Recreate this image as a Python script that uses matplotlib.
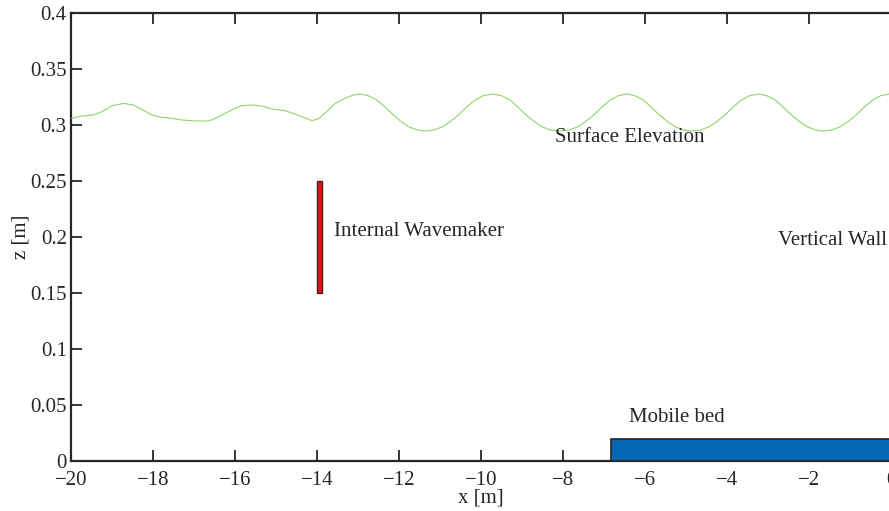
import numpy as np
import matplotlib
matplotlib.use("Agg")
import matplotlib.pyplot as plt
import matplotlib.patches as mpatches
from matplotlib.ticker import FuncFormatter

# -----------------------------------------------------------------------------
# Flume layout data
# -----------------------------------------------------------------------------
# free surface snapshot (x [m], eta [m])
surf_x = [-19.98, -19.74, -19.46, -19.29, -19.13, -19.00, -18.72, -18.48,
          -18.28, -18.03, -17.79, -17.54, -17.30, -16.98, -16.65, -16.53,
          -16.37, -16.16, -16.00, -15.84, -15.59, -15.35, -15.10, -14.78,
          -14.54, -14.33, -14.13, -13.97, -13.72, -13.56, -13.32, -13.11,
          -12.95, -12.75, -12.55, -12.35, -12.15, -11.95, -11.75, -11.55,
          -11.34, -11.15, -10.95, -10.75, -10.55, -10.35, -10.15, -9.95,
          -9.70, -9.50, -9.30, -9.10, -8.90, -8.70, -8.50, -8.30,
          -8.07, -7.85, -7.65, -7.45, -7.25, -7.05, -6.85, -6.65,
          -6.45, -6.25, -6.05, -5.85, -5.65, -5.45, -5.25, -5.05,
          -4.86, -4.65, -4.45, -4.25, -4.05, -3.85, -3.65, -3.45,
          -3.23, -3.03, -2.83, -2.63, -2.43, -2.23, -2.03, -1.83,
          -1.65, -1.45, -1.25, -1.05, -0.85, -0.65, -0.45, -0.25,
          -0.05, 0.0]
surf_z = [0.3060, 0.3080, 0.3090, 0.3113, 0.3140, 0.3172, 0.3193, 0.3179,
          0.3140, 0.3090, 0.3069, 0.3060, 0.3045, 0.3036, 0.3036, 0.3050,
          0.3080, 0.3120, 0.3149, 0.3172, 0.3179, 0.3170, 0.3143, 0.3128,
          0.3098, 0.3069, 0.3039, 0.3054, 0.3134, 0.3193, 0.3238, 0.3268,
          0.3277, 0.3262, 0.3225, 0.3165, 0.3095, 0.3030, 0.2982, 0.2955,
          0.2946, 0.2955, 0.2982, 0.3030, 0.3090, 0.3160, 0.3222, 0.3262,
          0.3277, 0.3262, 0.3225, 0.3160, 0.3090, 0.3030, 0.2982, 0.2955,
          0.2946, 0.2955, 0.2982, 0.3030, 0.3090, 0.3160, 0.3222, 0.3262,
          0.3277, 0.3262, 0.3225, 0.3160, 0.3090, 0.3030, 0.2982, 0.2955,
          0.2946, 0.2955, 0.2982, 0.3030, 0.3090, 0.3160, 0.3222, 0.3262,
          0.3277, 0.3262, 0.3225, 0.3160, 0.3090, 0.3030, 0.2982, 0.2955,
          0.2946, 0.2955, 0.2982, 0.3030, 0.3090, 0.3160, 0.3222, 0.3262,
          0.3277, 0.3276]

# internal wavemaker (x0, width, z_bottom, z_top)
wm_x, wm_w = -14.0, 0.12
wm_z0, wm_z1 = 0.15, 0.25

# mobile bed (x_start, x_end, thickness)
bed_x0, bed_x1 = -6.83, 0.0
bed_h = 0.02

xticks = np.arange(-20, 1, 2)
yticks = np.arange(0, 0.41, 0.05)

TXT = "#262626"
plt.rcParams["font.family"] = ["Liberation Serif", "DejaVu Serif"]
plt.rcParams["font.size"] = 15

# -----------------------------------------------------------------------------
# Figure
# -----------------------------------------------------------------------------
fig = plt.figure(figsize=(8.89, 5.11), dpi=100)
ax = fig.add_axes([71 / 889, 50 / 511, 820 / 889, 448 / 511])

ax.plot(surf_x, surf_z, color="#8fd46a", lw=0.8, zorder=3)

ax.add_patch(mpatches.Rectangle((wm_x, wm_z0), wm_w, wm_z1 - wm_z0,
                                facecolor="#e8141c", edgecolor="#4a2020",
                                lw=1.0, zorder=4))
ax.add_patch(mpatches.Rectangle((bed_x0, 0), bed_x1 - bed_x0, bed_h,
                                facecolor="#0467b5", edgecolor="#262626",
                                lw=1.2, zorder=4))

ax.text(-13.59, 0.2047, "Internal Wavemaker", ha="left", va="center", color=TXT)
ax.text(-8.195, 0.289, "Surface Elevation", ha="left", va="center", color=TXT)
ax.text(-2.756, 0.197, "Vertical Wall", ha="left", va="center", color=TXT)
ax.text(-6.39, 0.039, "Mobile bed", ha="left", va="center", color=TXT)

ax.set_xlim(-20, 0)
ax.set_ylim(0, 0.4)
ax.set_xticks(xticks)
ax.set_yticks(yticks)
ax.yaxis.set_major_formatter(FuncFormatter(lambda v, p: f"{v:g}"))
ax.xaxis.set_major_formatter(FuncFormatter(lambda v, p: f"{v:g}".replace("-", "\u2212")))

ax.tick_params(direction="in", length=8, width=1.3, colors=TXT,
               top=True, right=False, labelsize=15)
ax.tick_params(axis="x", pad=7)
ax.tick_params(axis="y", pad=3)
for s in ax.spines.values():
    s.set_linewidth(1.6)
    s.set_color(TXT)

ax.set_xlabel("x [m]", color=TXT, labelpad=-1)
ax.set_ylabel("z [m]", color=TXT, labelpad=0)

fig.savefig("out.png", dpi=100)
